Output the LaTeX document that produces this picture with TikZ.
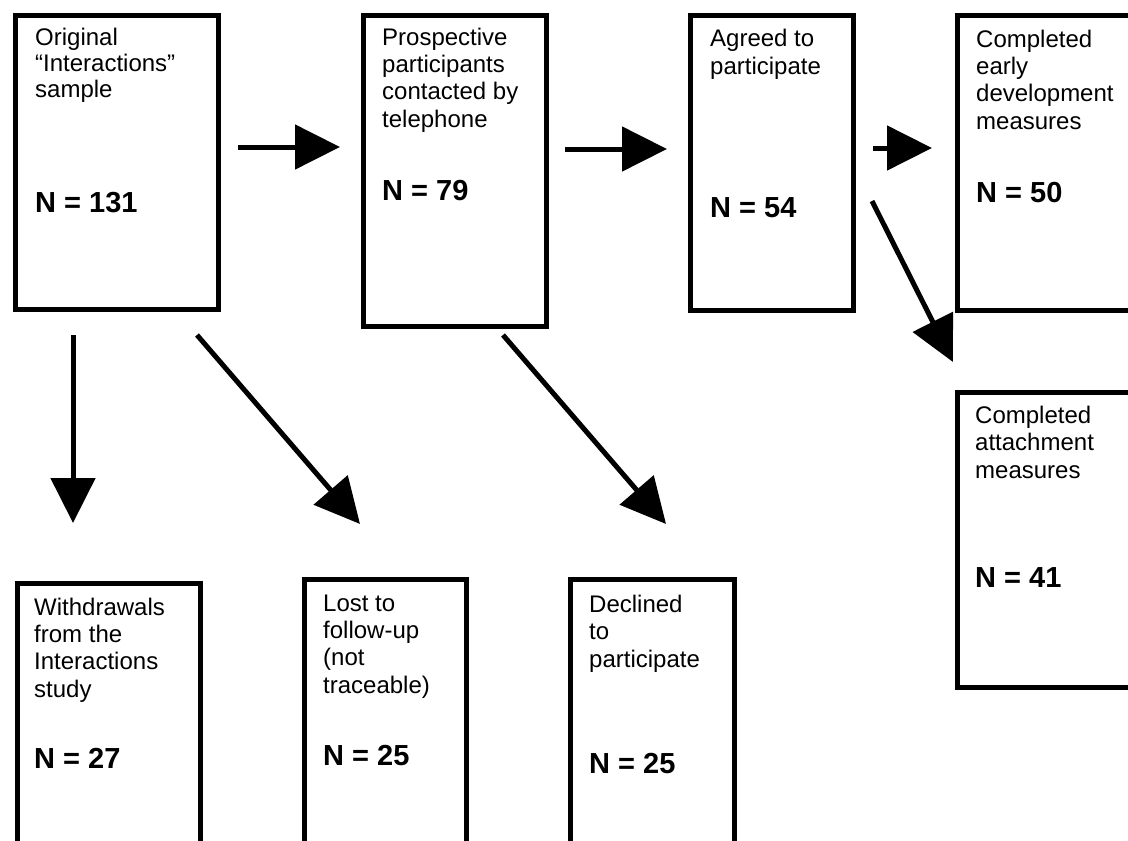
\documentclass[tikz,border=0pt]{standalone}
\usepackage{fontspec}
\setmainfont{Liberation Sans}
\usetikzlibrary{arrows.meta}
\begin{document}
\begin{tikzpicture}[x=1pt,y=-1pt,
  box/.style={draw=black,line width=5pt,rectangle,inner sep=0pt,anchor=north west,line join=miter},
  lbl/.style={anchor=base west,inner sep=0pt,align=left,font=\fontsize{24}{27.3}\selectfont},
  num/.style={anchor=base west,inner sep=0pt,font=\fontsize{29}{33}\selectfont\bfseries},
  arr/.style={line width=5pt,-{Triangle[length=45pt,width=44pt]}}]
\clip (0,0) rectangle (1128,841);
\fill[white] (0,0) rectangle (1128,841);
% boxes
\node[box,minimum width=203.5pt,minimum height=294pt] (b1) at (12.5,12.5) {};
\node[box,minimum width=183pt,minimum height=311pt] (b2) at (360.5,12.5) {};
\node[box,minimum width=163pt,minimum height=295.5pt] (b3) at (687.5,12.5) {};
\node[box,minimum width=190pt,minimum height=295.5pt] (b4) at (954.5,12.5) {};
\node[box,minimum width=190pt,minimum height=295pt] (b5) at (954.5,389.5) {};
\node[box,minimum width=183.5pt,minimum height=330pt] (b6) at (14.5,580.5) {};
\node[box,minimum width=161.5pt,minimum height=330pt] (b7) at (302,576.5) {};
\node[box,minimum width=163.5pt,minimum height=330pt] (b8) at (568,576.5) {};
% texts (anchored at the baseline of their last line)
\node[lbl,font=\fontsize{24}{26}\selectfont] (t1) at (35,97.5) {Original\\“Interactions”\\sample};
\node[num] (n1) at (35,212) {N = 131};
\node[lbl] (t2) at (382,127) {Prospective\\participants\\contacted by\\telephone};
\node[num] (n2) at (382,200) {N = 79};
\node[lbl] (t3) at (710,74) {Agreed to\\participate};
\node[num] (n3) at (710,217) {N = 54};
\node[lbl] (t4) at (976,129) {Completed\\early\\development\\measures};
\node[num] (n4) at (976,202) {N = 50};
\node[lbl] (t5) at (975,478) {Completed\\attachment\\measures};
\node[num] (n5) at (975,587) {N = 41};
\node[lbl] (t6) at (34,697) {Withdrawals\\from the\\Interactions\\study};
\node[num] (n6) at (34,768) {N = 27};
\node[lbl] (t7) at (323,693) {Lost to\\follow-up\\(not\\traceable)};
\node[num] (n7) at (323,765) {N = 25};
\node[lbl] (t8) at (589,667) {Declined\\to\\participate};
\node[num] (n8) at (589,773) {N = 25};
% arrow ends
\coordinate (a1s) at (238,147); \coordinate (a1e) at (340,147);
\coordinate (a2s) at (565,149); \coordinate (a2e) at (667,149);
\coordinate (a3s) at (873,148); \coordinate (a3e) at (932,148);
\coordinate (a4s) at (872,201); \coordinate (a4e) at (953,362);
\coordinate (a5s) at (73,335);  \coordinate (a5e) at (73,523);
\coordinate (a6s) at (197,335); \coordinate (a6e) at (360,524);
\coordinate (a7s) at (503,335); \coordinate (a7e) at (666,524);
\draw[arr] (a1s) -- (a1e);
\draw[arr] (a2s) -- (a2e);
\draw[arr] (a3s) -- (a3e);
\draw[arr] (a4s) -- (a4e);
\draw[arr] (a5s) -- (a5e);
\draw[arr] (a6s) -- (a6e);
\draw[arr] (a7s) -- (a7e);
\end{tikzpicture}
\end{document}
